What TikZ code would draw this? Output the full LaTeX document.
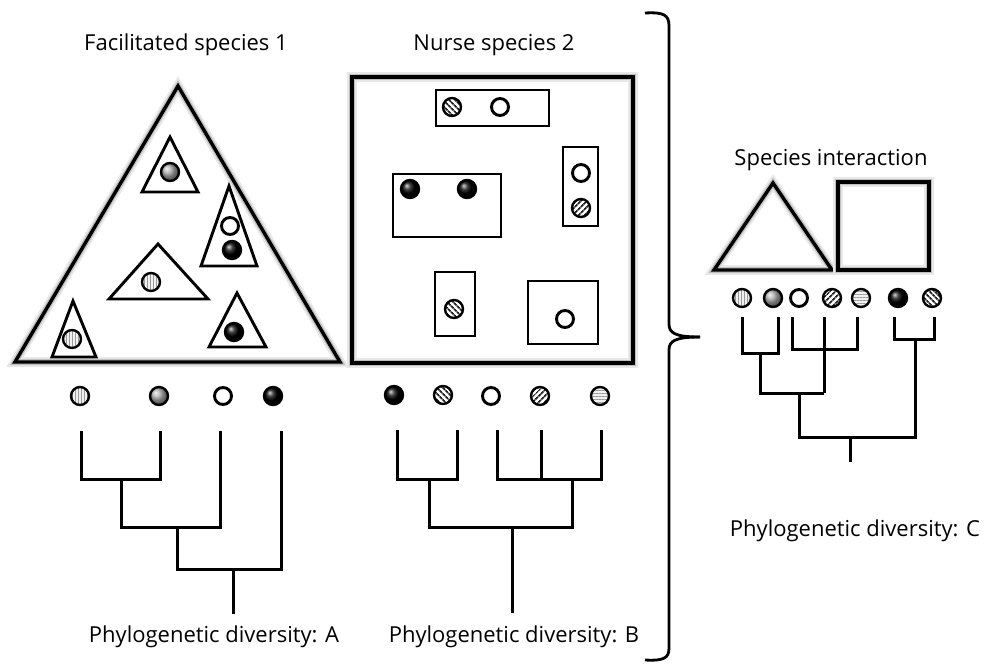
\documentclass[tikz,border=0pt]{standalone}
\usepackage{fontspec}
\setmainfont{Open Sans}
\usetikzlibrary{patterns.meta,shadings}
\tikzset{
  glow/.style={preaction={fill=white},preaction={draw=black!9,line width=10pt},preaction={draw=black!25,line width=6pt},draw=black,line width=3.4pt},
  small/.style={draw=black,line width=2.9pt,fill=white},
  tree/.style={draw=black,line width=3pt},
  brace/.style={draw=black,line width=2.8pt},
  lbl/.style={font=\fontsize{22}{26}\selectfont,inner sep=0pt,text=black},
  sp/.style={circle,draw=black,line width=2.4pt,minimum size=18pt,inner sep=0pt},
  vst/.style={sp,preaction={fill=gray!12},pattern={Lines[angle=90,distance=3pt,line width=1pt]},pattern color=gray!80},
  hst/.style={sp,preaction={fill=gray!12},pattern={Lines[angle=0,distance=3pt,line width=1pt]},pattern color=gray!80},
  gball/.style={sp,shading=ball,ball color=gray!65},
  bball/.style={sp,shading=ball,ball color=black},
  wht/.style={sp,fill=white,line width=2.9pt,minimum size=17pt},
  nwh/.style={sp,preaction={fill=white},pattern={Lines[angle=-45,distance=4pt,line width=1.8pt]},pattern color=black!85},
  neh/.style={sp,preaction={fill=white},pattern={Lines[angle=45,distance=4pt,line width=1.8pt]},pattern color=black!85},
}
\begin{document}
\begin{tikzpicture}[x=1pt,y=-1pt]
\useasboundingbox (0,0) rectangle (986,664);

% titles
\node[lbl] (tfac) at (186,45) {Facilitated species 1};
\node[lbl] (tnur) at (494,45) {Nurse species 2};
\node[lbl] (tint) at (831,160) {Species interaction};
\node[lbl] (pda) at (214,637) {Phylogenetic diversity: A};
\node[lbl] (pdb) at (514,637) {Phylogenetic diversity: B};
\node[lbl] (pdc) at (855,531) {Phylogenetic diversity: C};

% big triangle
\path[glow] (178,86) -- (15,362) -- (340,362) -- cycle;
\path[small] (170,137) -- (142,192) -- (198,192) -- cycle;
\path[small] (229,186) -- (201,266) -- (257,266) -- cycle;
\path[small] (158,244) -- (109,299) -- (208,299) -- cycle;
\path[small] (237,293) -- (209,347) -- (266,347) -- cycle;
\path[small] (73,301) -- (52,357) -- (96,357) -- cycle;
\node[gball] (ta1) at (170,172) {};
\node[wht] (ta2) at (230,226) {};
\node[bball] (ta3) at (232,250) {};
\node[vst] (ta4) at (151,282) {};
\node[bball] (ta5) at (234,332) {};
\node[vst] (ta6) at (72,339) {};

% big square
\path[glow] (352,77) rectangle (633,363);
\path[small] (436,90) rectangle (549,126);
\path[small] (393,174) rectangle (501,237);
\path[small] (563,147) rectangle (598,226);
\path[small] (435,272) rectangle (475,336);
\path[small] (528,281) rectangle (598,344);
\node[nwh] (sq1) at (452,107) {};
\node[wht] (sq2) at (500,107) {};
\node[bball] (sq3) at (410,189) {};
\node[bball] (sq4) at (467,189) {};
\node[wht] (sq5) at (581,173) {};
\node[neh] (sq6) at (581,208) {};
\node[nwh] (sq7) at (454,309) {};
\node[wht] (sq8) at (565,319) {};

% species interaction shapes
\path[glow] (773,183) -- (714,270) -- (832,270) -- cycle;
\path[glow] (838,182) rectangle (929,270);

% circle rows
\node[vst] (a1) at (80,396) {};
\node[gball] (a2) at (159,396) {};
\node[wht] (a3) at (223,396) {};
\node[bball] (a4) at (273,396) {};

\node[bball] (b1) at (394,395) {};
\node[nwh] (b2) at (443,395) {};
\node[wht] (b3) at (491,396) {};
\node[neh] (b4) at (540,396) {};
\node[hst] (b5) at (600,396) {};

\node[vst] (c1) at (742,298) {};
\node[gball] (c2) at (773,298) {};
\node[wht] (c3) at (799,298) {};
\node[neh] (c4) at (832,298) {};
\node[hst] (c5) at (861,298) {};
\node[bball] (c6) at (898,298) {};
\node[nwh] (c7) at (932,298) {};

% tree A
\draw[tree] (81,431) |- (160,479) -- (160,431);
\draw[tree] (121,479) |- (220,527) -- (220,431);
\draw[tree] (177,527) |- (281,569) -- (281,431);
\draw[tree] (233,569) -- (233,614);

% tree B
\draw[tree] (397,430) |- (457,479) -- (457,430);
\draw[tree] (497,430) |- (601,479) -- (601,430);
\draw[tree] (541,430) -- (541,479);
\draw[tree] (429,479) |- (572,527) -- (572,479);
\draw[tree] (512,527) -- (512,613);

% tree C
\draw[tree] (742,317) |- (778,353) -- (778,317);
\draw[tree] (792,317) |- (857,349) -- (857,317);
\draw[tree] (894,317) |- (934,339) -- (934,317);
\draw[tree] (824,317) -- (824,393);
\draw[tree] (760,353) |- (824,393);
\draw[tree] (799,393) |- (915,437) -- (915,339);
\draw[tree] (850,437) -- (850,462);

% brace
\coordinate (btop) at (645,13);
\coordinate (btip) at (700,337);
\coordinate (bbot) at (645,660);
\draw[brace] (btop) .. controls (664,12) and (669,15) .. (669,26) -- (669,324) .. controls (669,333) and (675,337) .. (btip);
\draw[brace] (btip) .. controls (675,337) and (669,341) .. (669,350) -- (669,648) .. controls (669,658) and (664,661) .. (bbot);
\end{tikzpicture}
\end{document}
